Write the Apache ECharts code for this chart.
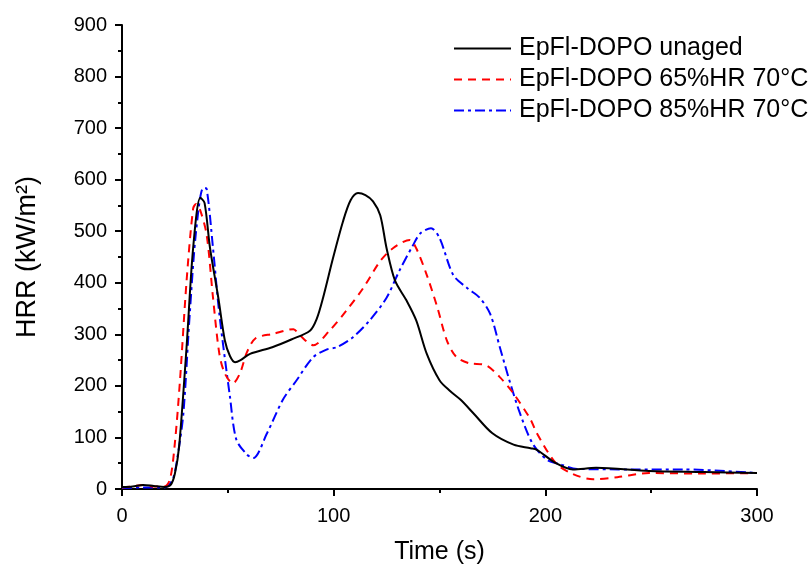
<!DOCTYPE html>
<html><head><meta charset="utf-8">
<script src="https://cdn.jsdelivr.net/npm/echarts@6/dist/echarts.min.js"></script>
<style>html,body{margin:0;padding:0;background:#fff}#c{width:810px;height:570px}</style>
</head><body><div id="c"></div>
<script>
const seriesNames = ['EpFl-DOPO unaged', 'EpFl-DOPO 65%HR 70°C', 'EpFl-DOPO 85%HR 70°C'];
const unaged = [[0,4],[5,5],[10,8],[15,6],[20,4],[23,8],[25,30],[27,83],[30.5,275],[33.6,467],[37,565],[39,555],[41.6,467],[45.5,371],[48.6,288],[51,258],[53.4,246],[56,250],[60.5,262],[71,275],[80,290],[88.8,307],[92,330],[95,371],[99.7,448],[104.4,519],[108,560],[111.5,574],[115,570],[118.6,558],[122,531],[125,467],[129,404],[134.5,365],[139,327],[144,262],[150,211],[155,190],[160,173],[166,147],[175,108],[185,86],[193,79],[196,76],[205,50],[213,38],[224,41],[249,35],[275,33],[300,31]];
const rh65 = [[0,3],[5,5],[10,8],[15,5],[20,5],[22.7,19],[25,90],[27.4,211],[30.5,403],[33.6,544],[35,553],[37,540],[40,493],[43,371],[46,262],[48.6,224],[52.4,205],[55.7,224],[59,265],[63,292],[71.4,301],[81,310],[84,298],[90.4,279],[98,307],[106,346],[114,390],[122,442],[128,467],[136,483],[139,467],[144,415],[149,352],[153.5,288],[158,256],[164,244],[172,240],[178.5,217],[185,185],[193,135],[196,108],[205,50],[213,29],[222.6,19],[234,23],[249,31],[273,30],[300,31]];
const rh85 = [[0,2],[10,3],[20,3],[24,19],[26.5,70],[29,147],[32,339],[35,500],[38.4,584],[40,582],[43,467],[46,339],[51,179],[54,96],[59,67],[62,60],[68.5,108],[76,173],[82.5,211],[90.4,256],[97,271],[101.5,275],[109,294],[117,327],[125,371],[131,423],[137.5,473],[141,496],[146,506],[150,487],[156.5,415],[163,390],[169,371],[174,339],[178.5,275],[183,211],[188,147],[194,88],[200.7,57],[207,48],[215,39],[241,38],[265,38],[300,31]];
const xTicks = [0, 100, 200, 300];
const yTicks = [0, 100, 200, 300, 400, 500, 600, 700, 800, 900];

const chart = echarts.init(document.getElementById('c'), null, {renderer: 'canvas'});
const FONT = 'Liberation Sans, Arial, sans-serif';
const axisCommon = {
  axisLine: {show: true, onZero: false, lineStyle: {color: '#000', width: 2}},
  axisTick: {show: true, inside: false, length: 7, lineStyle: {color: '#000', width: 2}},
  minorTick: {show: true, splitNumber: 2, length: 4, lineStyle: {color: '#000', width: 2}},
  splitLine: {show: false},
  axisLabel: {color: '#000', fontFamily: FONT, fontSize: 20}
};
chart.setOption({
  backgroundColor: '#fff',
  animation: false,
  grid: {left: 122, right: 53, top: 25, bottom: 77, containLabel: false},
  legend: {
    left: 453, top: 36, padding: 0, orient: 'vertical', itemWidth: 57, itemHeight: 14, itemGap: 6,
    itemStyle: {opacity: 0},
    textStyle: {fontFamily: FONT, fontSize: 25, lineHeight: 25, color: '#000', padding: [0, 0, 0, 3]},
    data: seriesNames
  },
  xAxis: Object.assign({}, axisCommon, {
    type: 'value', min: 0, max: 300, interval: 100,
    name: 'Time (s)', nameLocation: 'middle', nameGap: 51,
    nameTextStyle: {fontFamily: FONT, fontSize: 25, color: '#000'},
    axisLabel: Object.assign({}, axisCommon.axisLabel, {margin: 17, formatter: v => xTicks.includes(v) ? String(v) : ''})
  }),
  yAxis: Object.assign({}, axisCommon, {
    type: 'value', min: 0, max: 900, interval: 100,
    name: 'HRR (kW/m²)', nameLocation: 'middle', nameGap: 81,
    nameTextStyle: {fontFamily: FONT, fontSize: 27, color: '#000'},
    axisLabel: Object.assign({}, axisCommon.axisLabel, {margin: 15, formatter: v => yTicks.includes(v) ? String(v) : ''})
  }),
  series: [
    {name: seriesNames[0], type: 'line', data: unaged, showSymbol: false, symbol: 'none', smooth: 0.3,
     lineStyle: {color: '#000', width: 2, type: 'solid'}, itemStyle: {color: '#000'}, z: 3},
    {name: seriesNames[1], type: 'line', data: rh65, showSymbol: false, symbol: 'none', smooth: 0.3,
     lineStyle: {color: '#ff0000', width: 2, type: [8, 6]}, itemStyle: {color: '#ff0000'}, z: 2},
    {name: seriesNames[2], type: 'line', data: rh85, showSymbol: false, symbol: 'none', smooth: 0.3,
     lineStyle: {color: '#0000ff', width: 2, type: [10, 4, 3, 4]}, itemStyle: {color: '#0000ff'}, z: 1}
  ]
});
</script></body></html>
